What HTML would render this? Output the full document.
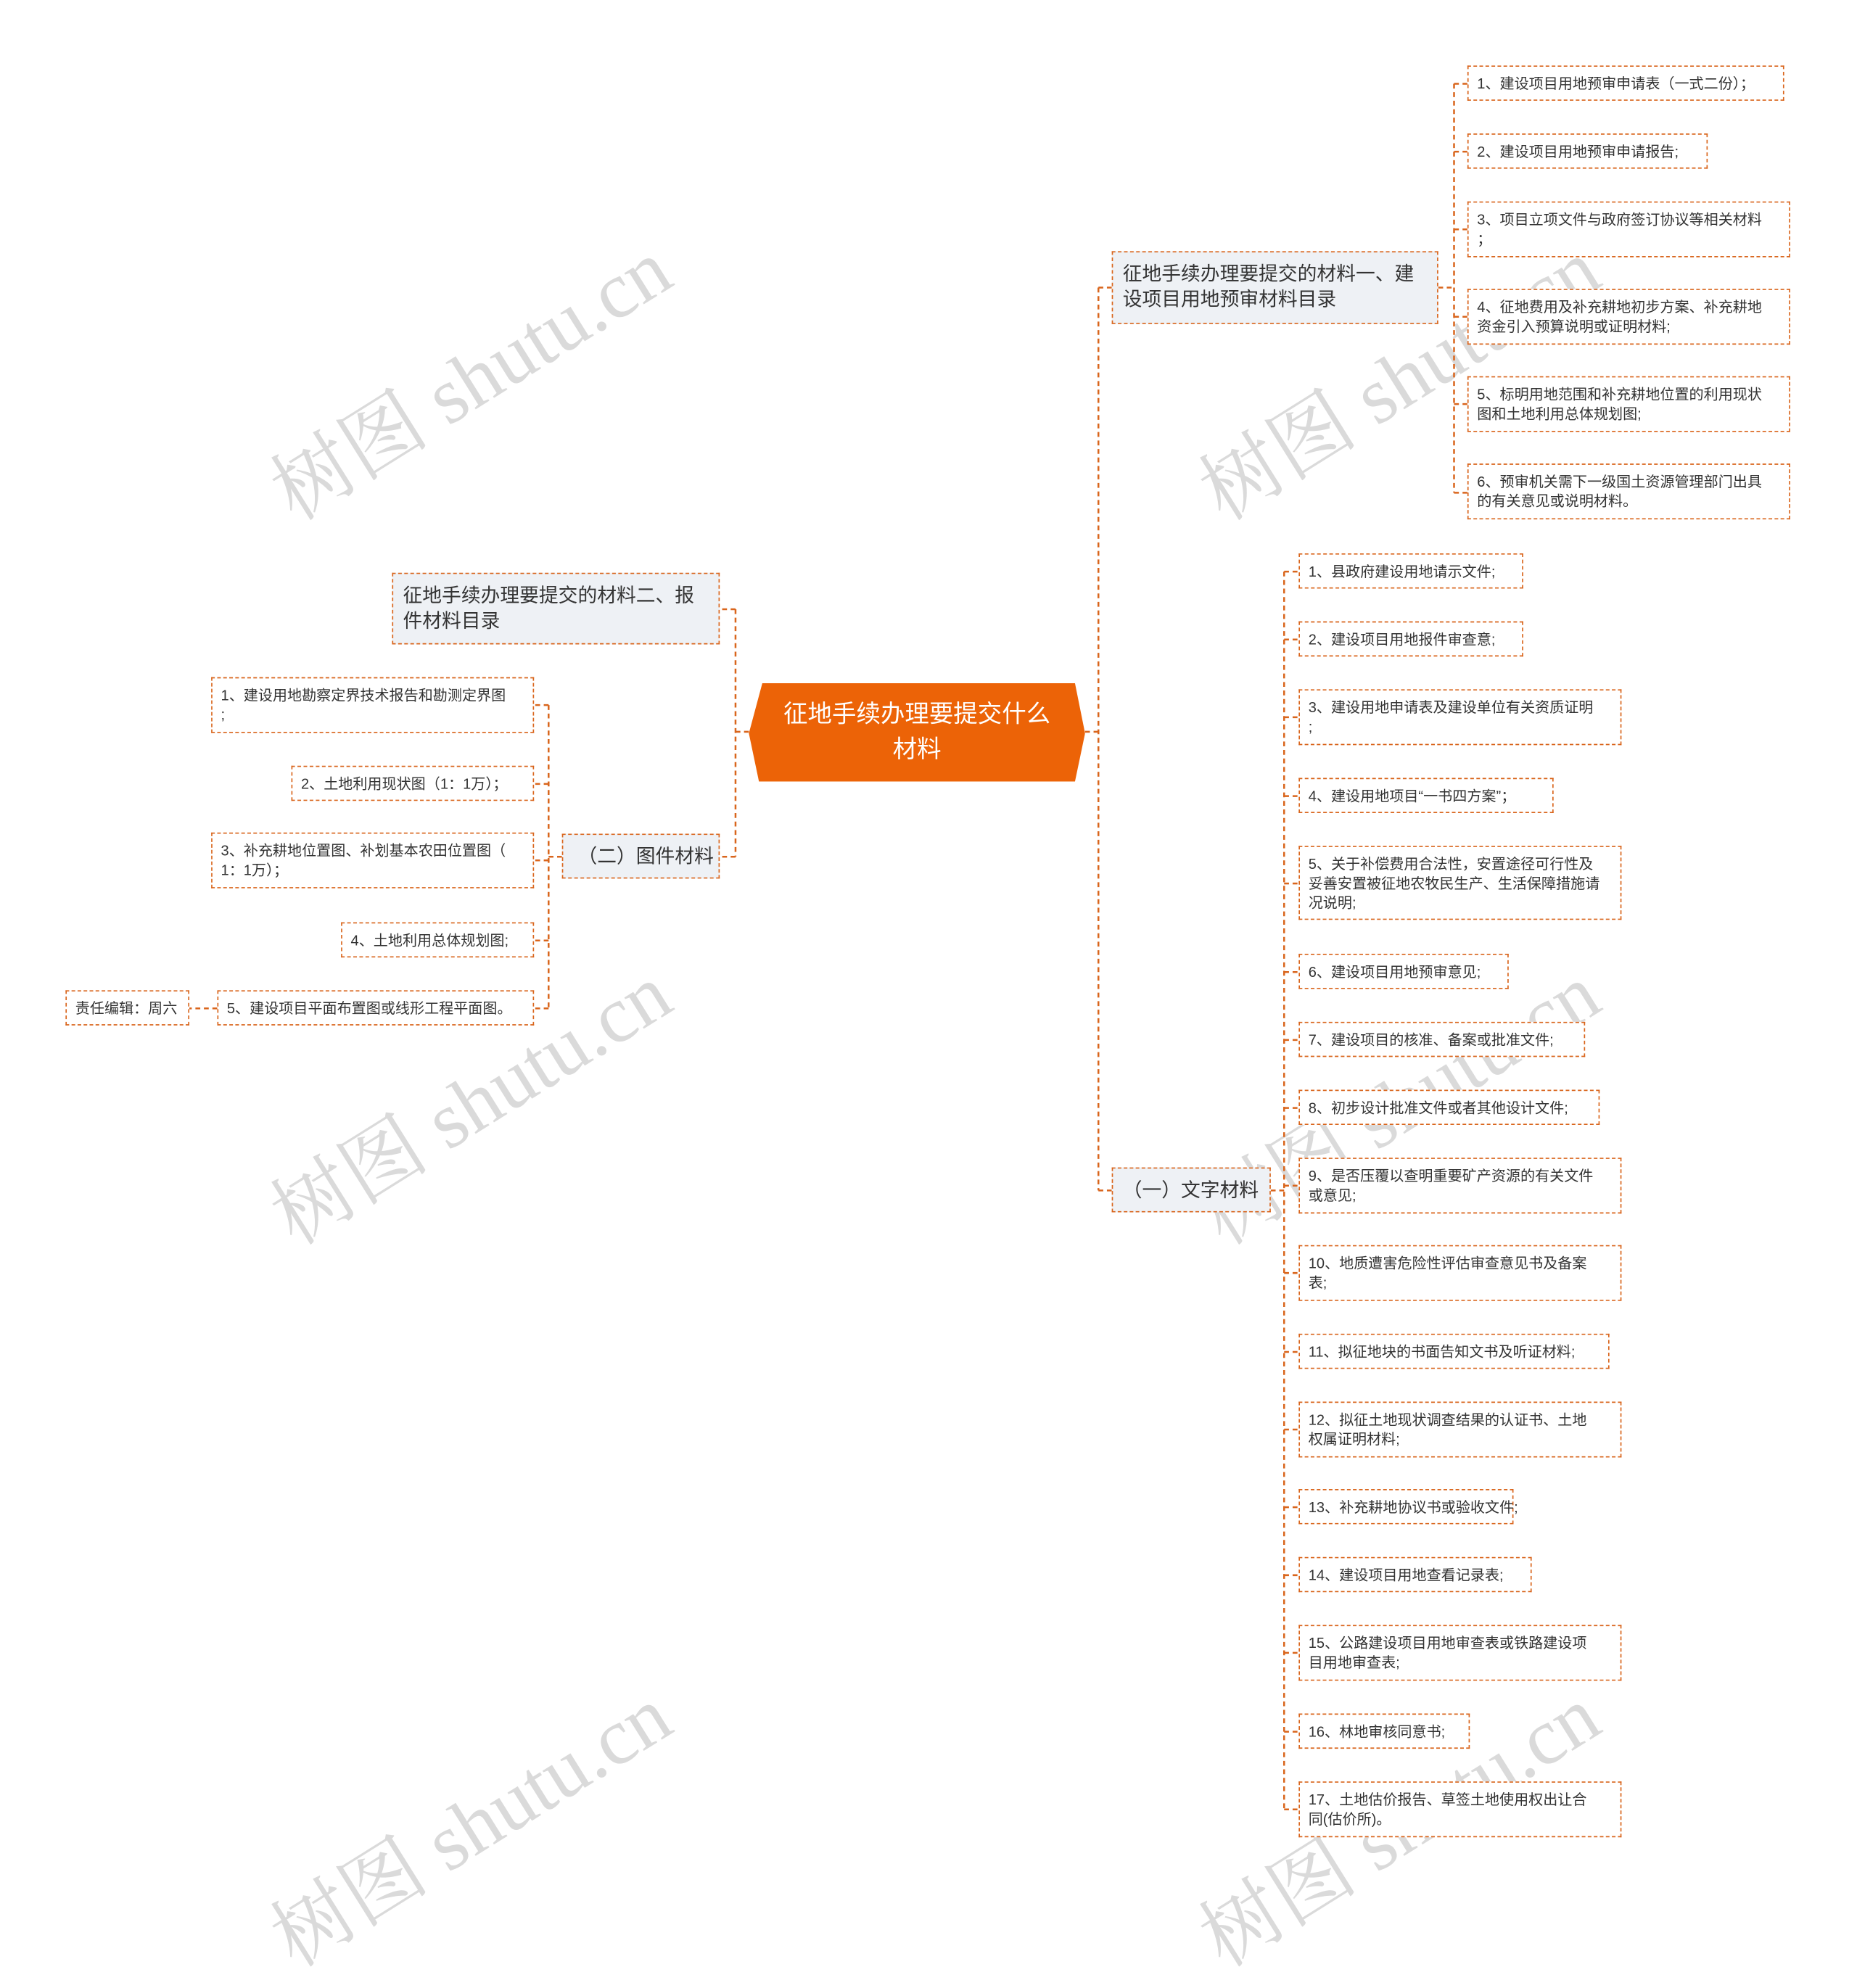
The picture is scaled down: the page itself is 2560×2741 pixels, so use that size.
<!DOCTYPE html>
<html><head><meta charset="utf-8"><style>
html,body{margin:0;padding:0;background:#fff;width:2560px;height:2623px;overflow:hidden}
#s{position:absolute;left:0;top:0;width:1530px;height:1568px;transform:scale(1.6732);transform-origin:0 0;font-family:"Liberation Sans","Noto Sans CJK SC",sans-serif;color:#333}
.b{position:absolute;box-sizing:border-box;border:1px dashed #d9651c;background:#fff;font-size:12px;line-height:16px;padding:6px 0 0 7px;white-space:nowrap}
.l1{background:#eef1f5;font-size:16px;line-height:21px;padding:8px 0 0 8px}
.wm{position:absolute;font-family:"Liberation Serif","Noto Serif CJK SC",serif;font-size:66px;color:#d4d4d4;white-space:nowrap;transform:translate(-50%,-50%) rotate(-32deg);opacity:.85}
#c{position:absolute;left:617px;top:563px;width:277px;height:81px;background:#ec6307;clip-path:polygon(0 51%,4% 0,97% 0,100% 51%,97% 100%,3% 100%);color:#fff;font-size:20px;line-height:29px;text-align:center;padding-top:12px;box-sizing:border-box}
svg{position:absolute;left:0;top:0}
</style></head><body><div id="s">
<div class="wm" style="left:385px;top:308px">树图 shutu.cn</div>
<div class="wm" style="left:1150px;top:308px">树图 shutu.cn</div>
<div class="wm" style="left:385px;top:905px">树图 shutu.cn</div>
<div class="wm" style="left:1150px;top:905px">树图 shutu.cn</div>
<div class="wm" style="left:385px;top:1500px">树图 shutu.cn</div>
<div class="wm" style="left:1150px;top:1500px">树图 shutu.cn</div>
<svg width="1530" height="1568"><g stroke="#d9651c" stroke-width="1.5" stroke-dasharray="4,3" fill="none">
<path d="M894 603H905M905 237V981M905 237H916M905 981H916"/>
<path d="M617 603H606M606 502V706M606 502H593M606 706H593"/>
<path d="M1185 237H1198M1198 69V406"/>
<path d="M1198 69H1209M1198 125H1209M1198 189H1209M1198 261H1209M1198 333H1209M1198 406H1209"/>
<path d="M1047 981H1058M1058 471V1491"/>
<path d="M1058 471H1070M1058 527H1070M1058 591H1070M1058 656H1070M1058 728H1070M1058 801H1070M1058 857H1070M1058 913H1070M1058 977H1070M1058 1049H1070M1058 1114H1070M1058 1178H1070M1058 1242H1070M1058 1298H1070M1058 1362H1070M1058 1427H1070M1058 1491H1070"/>
<path d="M463 706H452M452 581V831"/>
<path d="M452 581H440M452 646H440M452 709H440M452 775H440M452 831H440M179 831H156"/>
</g></svg>
<div id="c">征地手续办理要提交什么<br>材料</div>
<div class="b l1" style="left:916px;top:207px;width:269px;height:60px">征地手续办理要提交的材料一、建<br>设项目用地预审材料目录</div>
<div class="b l1" style="left:916px;top:962px;width:131px;height:37px">（一）文字材料</div>
<div class="b l1" style="left:323px;top:472px;width:270px;height:59px">征地手续办理要提交的材料二、报<br>件材料目录</div>
<div class="b l1" style="left:463px;top:687px;width:130px;height:37px;padding-left:12px">（二）图件材料</div>

<div class="b" style="left:1209px;top:54px;width:261px;height:29px">1、建设项目用地预审申请表（一式二份）；</div>
<div class="b" style="left:1209px;top:110px;width:198px;height:29px">2、建设项目用地预审申请报告;</div>
<div class="b" style="left:1209px;top:166px;width:266px;height:46px">3、项目立项文件与政府签订协议等相关材料<br>；</div>
<div class="b" style="left:1209px;top:238px;width:266px;height:46px">4、征地费用及补充耕地初步方案、补充耕地<br>资金引入预算说明或证明材料;</div>
<div class="b" style="left:1209px;top:310px;width:266px;height:46px">5、标明用地范围和补充耕地位置的利用现状<br>图和土地利用总体规划图;</div>
<div class="b" style="left:1209px;top:382px;width:266px;height:46px">6、预审机关需下一级国土资源管理部门出具<br>的有关意见或说明材料。</div>

<div class="b" style="left:1070px;top:456px;width:185px;height:29px">1、县政府建设用地请示文件;</div>
<div class="b" style="left:1070px;top:512px;width:185px;height:29px">2、建设项目用地报件审查意;</div>
<div class="b" style="left:1070px;top:568px;width:266px;height:46px">3、建设用地申请表及建设单位有关资质证明<br>;</div>
<div class="b" style="left:1070px;top:641px;width:210px;height:29px">4、建设用地项目“一书四方案”；</div>
<div class="b" style="left:1070px;top:697px;width:266px;height:61px">5、关于补偿费用合法性，安置途径可行性及<br>妥善安置被征地农牧民生产、生活保障措施请<br>况说明;</div>
<div class="b" style="left:1070px;top:786px;width:173px;height:29px">6、建设项目用地预审意见;</div>
<div class="b" style="left:1070px;top:842px;width:236px;height:29px">7、建设项目的核准、备案或批准文件;</div>
<div class="b" style="left:1070px;top:898px;width:248px;height:29px">8、初步设计批准文件或者其他设计文件;</div>
<div class="b" style="left:1070px;top:954px;width:266px;height:46px">9、是否压覆以查明重要矿产资源的有关文件<br>或意见;</div>
<div class="b" style="left:1070px;top:1026px;width:266px;height:46px">10、地质遭害危险性评估审查意见书及备案<br>表;</div>
<div class="b" style="left:1070px;top:1099px;width:256px;height:29px">11、拟征地块的书面告知文书及听证材料;</div>
<div class="b" style="left:1070px;top:1155px;width:266px;height:46px">12、拟征土地现状调查结果的认证书、土地<br>权属证明材料;</div>
<div class="b" style="left:1070px;top:1227px;width:177px;height:29px">13、补充耕地协议书或验收文件;</div>
<div class="b" style="left:1070px;top:1283px;width:192px;height:29px">14、建设项目用地查看记录表;</div>
<div class="b" style="left:1070px;top:1339px;width:266px;height:46px">15、公路建设项目用地审查表或铁路建设项<br>目用地审查表;</div>
<div class="b" style="left:1070px;top:1412px;width:141px;height:29px">16、林地审核同意书;</div>
<div class="b" style="left:1070px;top:1468px;width:266px;height:46px">17、土地估价报告、草签土地使用权出让合<br>同(估价所)。</div>

<div class="b" style="left:174px;top:558px;width:266px;height:46px">1、建设用地勘察定界技术报告和勘测定界图<br>;</div>
<div class="b" style="left:240px;top:631px;width:200px;height:29px">2、土地利用现状图（1：1万）；</div>
<div class="b" style="left:174px;top:686px;width:266px;height:46px">3、补充耕地位置图、补划基本农田位置图（<br>1：1万）；</div>
<div class="b" style="left:281px;top:760px;width:159px;height:29px">4、土地利用总体规划图;</div>
<div class="b" style="left:179px;top:816px;width:261px;height:29px">5、建设项目平面布置图或线形工程平面图。</div>
<div class="b" style="left:54px;top:816px;width:102px;height:29px">责任编辑：周六</div>
</div></body></html>
